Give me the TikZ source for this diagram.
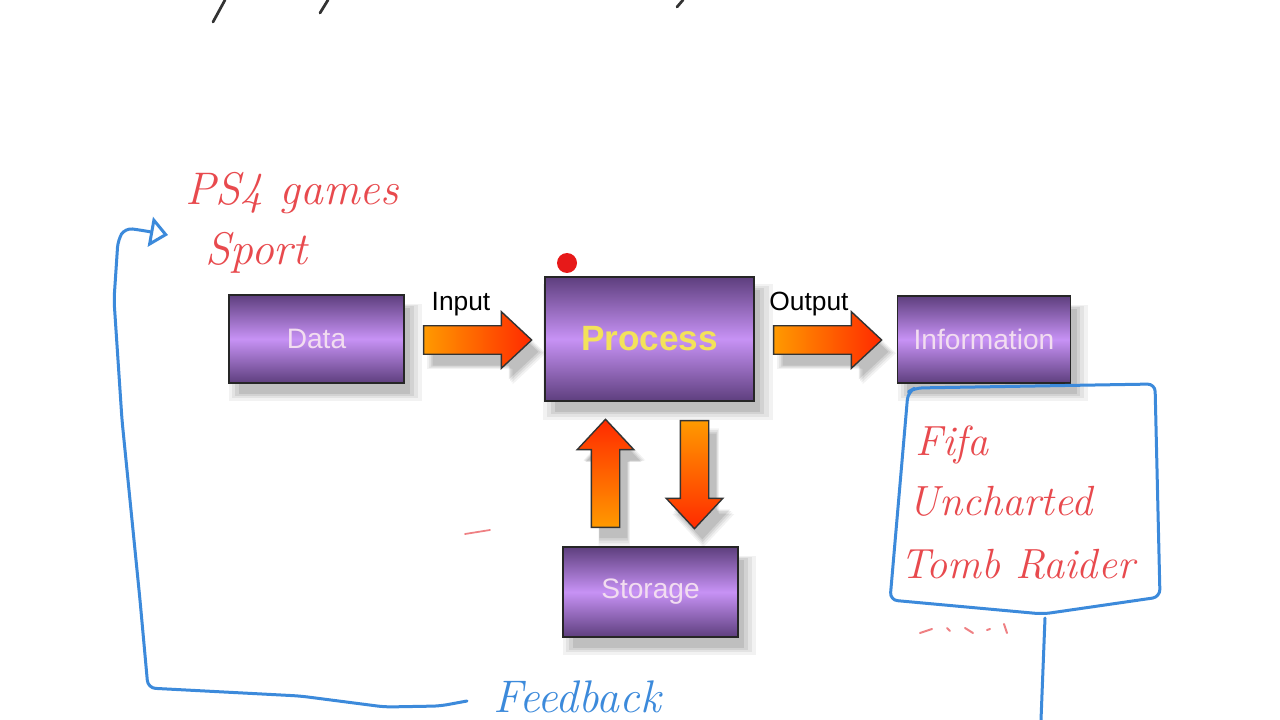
\documentclass[tikz,border=0pt]{standalone}
\usepackage{fontspec}
\newfontfamily\boxfont{Liberation Sans}
\usetikzlibrary{shapes.arrows,shadows,calc,arrows.meta}

\definecolor{boxdark}{HTML}{5E3F7E}
\definecolor{boxlight}{HTML}{C792F5}
\definecolor{boxtext}{HTML}{F2DDF0}
\definecolor{proctext}{HTML}{F3E25A}
\definecolor{arrorange}{HTML}{FF9A00}
\definecolor{arrred}{HTML}{FF2A00}
\definecolor{penred}{HTML}{E84A4E}
\definecolor{penblue}{HTML}{3C8ADB}

\tikzset{
    softshadow/.style={
        general shadow={fill=black, opacity=0.05, shadow xshift=1.6mm, shadow yshift=-2.4mm, shadow scale=1.10},
        general shadow={fill=black, opacity=0.06, shadow xshift=1.6mm, shadow yshift=-2.4mm, shadow scale=1.06},
        general shadow={fill=black, opacity=0.07, shadow xshift=1.6mm, shadow yshift=-2.4mm, shadow scale=1.02},
        general shadow={fill=black, opacity=0.09, shadow xshift=1.6mm, shadow yshift=-2.4mm, shadow scale=0.98}},
    stage/.style={draw=black!85, line width=1.1pt, softshadow,
        top color=boxdark, bottom color=boxdark, middle color=boxlight,
        font=\boxfont\fontsize{16}{18}\selectfont, text=boxtext},
    blockarrow/.style={single arrow, draw=black!80, line width=0.8pt, inner sep=2.7mm,
        minimum height=21.6mm, minimum width=11mm, anchor=tail,
        single arrow head extend=2.8mm, single arrow tip angle=86, softshadow},
    lbl/.style={font=\boxfont\fontsize{15}{17}\selectfont, text=black, inner sep=0pt},
    hand/.style={font=\itshape\fontsize{26}{30}\selectfont, inner sep=0pt, anchor=base west},
    pen/.style={line width=0.6mm, line cap=round, line join=round, rounded corners=1.5mm},
}

\begin{document}
\begin{tikzpicture}[x=0.2mm,y=-0.2mm]
            \def\u{0.2mm}

            \fill[white] (0,0) rectangle (1280,720);
            \useasboundingbox (0,0) rectangle (1280,720);
            \clip (0,0) rectangle (1280,720);

            % stages
            \node[stage, minimum width=175*\u, minimum height=88*\u] (data) at (316.5,339) {Data};
            \node[stage, minimum width=209*\u, minimum height=124*\u, text=proctext,
                font=\boxfont\bfseries\fontsize{20}{24}\selectfont] (process) at (649.5,339) {Process};
            \node[stage, minimum width=173*\u, minimum height=87*\u] (info) at (984,339.5) {Information};
            \node[stage, minimum width=175*\u, minimum height=90*\u] (storage) at (650.5,592) {Storage};

            % block arrows
            \node[blockarrow, left color=arrorange, right color=arrred] (inarr)
                at ($(data.east)+(18,1)$) {};
            \node[blockarrow, left color=arrorange, right color=arrred] (outarr)
                at ($(process.east)+(18,1)$) {};
            \node[blockarrow, shape border rotate=90, bottom color=arrorange, top color=arrred] (uparr)
                at ($(storage.north)+(-45,-18)$) {};
            \node[blockarrow, shape border rotate=270, top color=arrorange, bottom color=arrred] (downarr)
                at ($(process.south)+(45,18)$) {};

            \node[lbl] (inlbl) at (461,304) {Input};
            \node[lbl] (outlbl) at (809,304) {Output};

            \fill[red!90!black, opacity=0.9] (567,263) circle (10);

            % notes
            \node[hand, text=penred] (games) at (185,205) {PS4 games};
            \node[hand, text=penred] (sport) at (205,265) {Sport};
            \node[hand, text=penred, font=\itshape\fontsize{24}{28}\selectfont] (fifa) at (915,455) {Fifa};
            \node[hand, text=penred, font=\itshape\fontsize{24}{28}\selectfont] (unch) at (908,515) {Uncharted};
            \node[hand, text=penred, font=\itshape\fontsize{24}{28}\selectfont] (tomb) at (900,578) {Tomb Raider};
            \node[hand, text=penblue] (feedback) at (493,712) {Feedback};

            \draw[pen, penblue] (915,388) -- (1155,384) -- (1160,597) -- (1043,614) -- (890,600) -- (908,392) -- cycle;
            \draw[pen, penblue] (1045,618) -- (1041,720);
            \draw[pen, penblue, -{Triangle[open,length=3.6mm,width=6mm]}]
                (467,701) -- (440,706) -- (385,707) -- (300,696) -- (148,688) -- (140,600)
                -- (122,420) -- (114,300) -- (118,240) -- (125,228) -- (140,230) -- (168,235);

            % stray marks
            \foreach \a/\b/\c/\d in {213/22/225/0, 320/13/328/0, 677/7/683/0}
                \draw[line width=0.55mm, line cap=round, black!80] (\a,\b) -- (\c,\d);
            \draw[line width=0.35mm, line cap=round, penred!70] (465,534) -- (490,530);
            \foreach \a/\b/\c/\d in {920/633/932/629, 947/628/950/631, 965/628/973/633, 987/630/990/629, 1004/624/1007/633}
                \draw[line width=0.4mm, line cap=round, penred!70] (\a,\b) -- (\c,\d);

\end{tikzpicture}
\end{document}
